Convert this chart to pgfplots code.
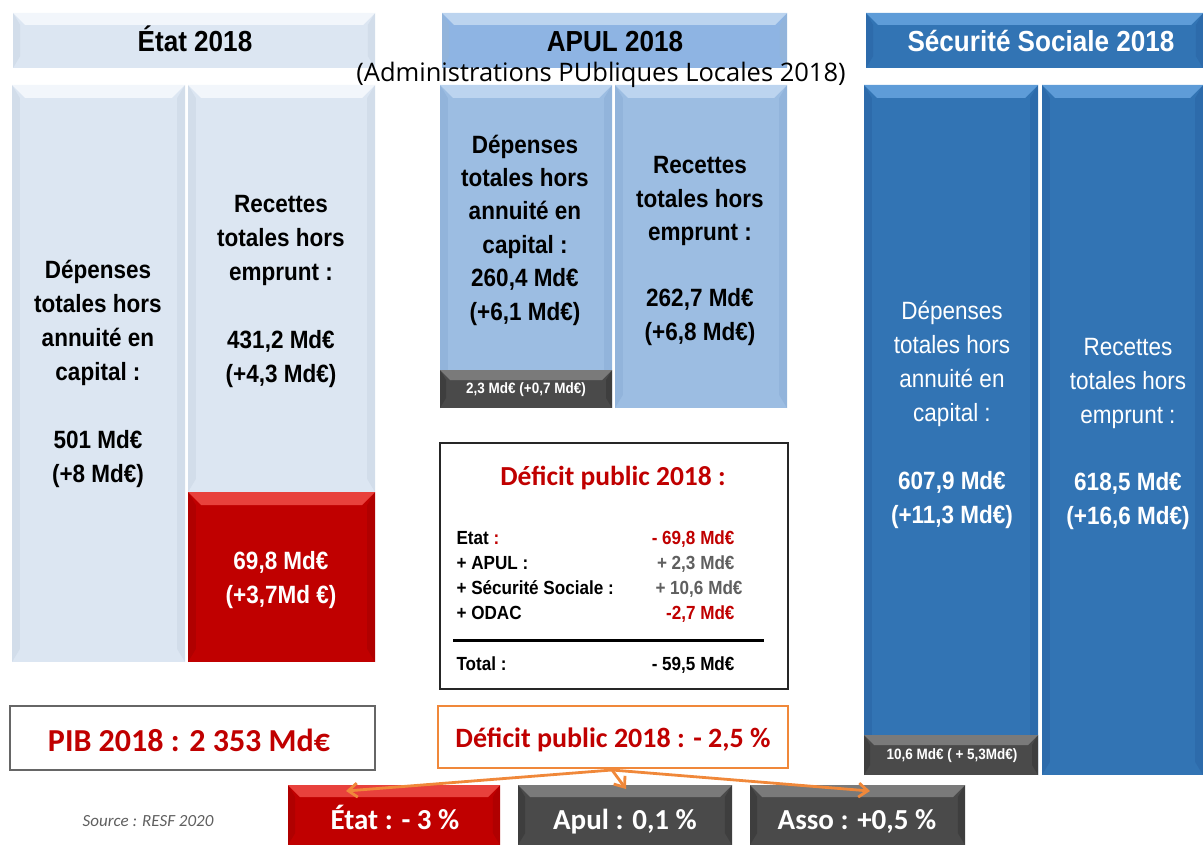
\documentclass[border=0pt]{standalone}
\usepackage{pgfplots}
\pgfplotsset{compat=1.18}
\usepackage{fontspec}
\setmainfont{Liberation Sans}
\newfontfamily\nar[FakeStretch=0.9]{Liberation Sans}
\newfontfamily\calfont{Carlito}
\newfontfamily\osans{Open Sans}
\usetikzlibrary{arrows.meta}

\definecolor{etatL}{HTML}{DCE6F2}
\definecolor{etatTop}{HTML}{F2F6FB}
\definecolor{etatSide}{HTML}{D2DDEA}
\definecolor{redA}{HTML}{C00000}
\definecolor{redTop}{HTML}{E8413C}
\definecolor{redSide}{HTML}{B00000}
\definecolor{apul}{HTML}{9CBDE2}
\definecolor{apulTop}{HTML}{BCD4EF}
\definecolor{apulSide}{HTML}{92B4DB}
\definecolor{apulH}{HTML}{8EB4E3}
\definecolor{ss}{HTML}{3274B4}
\definecolor{ssTop}{HTML}{5E9CD8}
\definecolor{ssSide}{HTML}{2D6BAB}
\definecolor{dg}{HTML}{4A4A4A}
\definecolor{dgTop}{HTML}{7A7A7A}
\definecolor{dgSide}{HTML}{3E3E3E}
\definecolor{orangeA}{HTML}{F0883A}
\definecolor{redtxt}{HTML}{C00000}
\definecolor{graytxt}{HTML}{5F5F5F}

% x0 y0 x1 y1 base top side bevel
\newcommand{\bevbox}[8]{%
 \pgfmathsetmacro\xa{#1+#8}\pgfmathsetmacro\xb{#3-#8}%
 \pgfmathsetmacro\ya{#2+#8}\pgfmathsetmacro\yb{#4-#8}%
 \pgfmathsetmacro\xc{#1+0.6*#8}\pgfmathsetmacro\xd{#3-0.6*#8}%
 \addplot[draw=none,fill=#5] coordinates {(#1,#2) (#3,#2) (#3,#4) (#1,#4)} --cycle;
 \addplot[draw=none,fill=#7] coordinates {(#1,#2) (\xc,\ya) (\xc,\yb) (#1,#4)} --cycle;
 \addplot[draw=none,fill=#7] coordinates {(#3,#2) (\xd,\ya) (\xd,\yb) (#3,#4)} --cycle;
 \addplot[draw=none,fill=#6] coordinates {(#1,#2) (#3,#2) (\xb,\ya) (\xa,\ya)} --cycle;
}

\begin{document}
\begin{tikzpicture}
\begin{axis}[width=1203pt,height=845pt,scale only axis,
  xmin=0,xmax=1203,ymin=0,ymax=845,y dir=reverse,
  hide axis,clip=false]
\path (rel axis cs:0,0) coordinate (A) (rel axis cs:1,1) coordinate (B);

% ---------- Etat ----------
\bevbox{13}{13}{375}{68}{etatL}{etatTop}{etatSide}{12}
\bevbox{12}{85}{185}{662}{etatL}{etatTop}{etatSide}{13}
\bevbox{188}{85}{375}{492}{etatL}{etatTop}{etatSide}{13}
\bevbox{188}{492}{375}{662}{redA}{redTop}{redSide}{13}

% ---------- APUL ----------
\bevbox{442}{13}{787}{68}{apulH}{apulTop}{apulSide}{12}
\bevbox{440}{85}{612}{408}{apul}{apulTop}{apulSide}{13}
\bevbox{615}{85}{787}{408}{apul}{apulTop}{apulSide}{13}
\bevbox{440}{370}{612}{408}{dg}{dgTop}{dgSide}{10}

% ---------- Securite sociale ----------
\bevbox{866}{13}{1203}{68}{ss}{ssTop}{ssSide}{12}
\bevbox{864}{85}{1038}{775}{ss}{ssTop}{ssSide}{13}
\bevbox{1042}{85}{1203}{775}{ss}{ssTop}{ssSide}{13}
\bevbox{864}{735}{1038}{775}{dg}{dgTop}{dgSide}{10}

% ---------- bottom boxes ----------
\bevbox{288}{785}{500}{845}{redA}{redTop}{redSide}{12}
\bevbox{518}{785}{732}{845}{dg}{dgTop}{dgSide}{12}
\bevbox{750}{785}{965}{845}{dg}{dgTop}{dgSide}{12}

% deficit box
\addplot[draw=black!85,line width=1.5pt,fill=white] coordinates {(440,443) (788,443) (788,689) (440,689)} --cycle;
\addplot[draw=black,line width=3pt] coordinates {(453,640) (764,640)};
% PIB box
\addplot[draw=gray!80!black,line width=1.5pt,fill=white] coordinates {(10,706) (375,706) (375,770) (10,770)} --cycle;
% deficit % box
\addplot[draw=orangeA,line width=1.5pt,fill=white] coordinates {(438,706) (788,706) (788,768) (438,768)} --cycle;
% arrows
\addplot[draw=orangeA,line width=2.8pt,-{Straight Barb[length=9pt,width=14pt,line width=2.8pt]}] coordinates {(612,770) (346,791)};
\addplot[draw=orangeA,line width=2.8pt,-{Straight Barb[length=9pt,width=14pt,line width=2.8pt]}] coordinates {(612,770) (626,789)};
\addplot[draw=orangeA,line width=2.8pt,-{Straight Barb[length=9pt,width=14pt,line width=2.8pt]}] coordinates {(612,770) (870,791)};

% ---------- texts ----------
\node[anchor=base,font=\nar\bfseries\fontsize{29}{34}\selectfont] at (axis cs:195,52) {État 2018};
\node[anchor=base,font=\nar\bfseries\fontsize{29}{34}\selectfont] at (axis cs:615,52) {APUL 2018};
\node[anchor=base,font=\nar\bfseries\fontsize{29}{34}\selectfont,text=white] at (axis cs:1041,52) {Sécurité Sociale 2018};
\node[font=\osans\fontsize{25.5}{30}\selectfont] at (axis cs:601,75) {(Administrations PUbliques Locales 2018)};

\node[align=center,font=\nar\bfseries\fontsize{25}{34}\selectfont] at (axis cs:98,374)
 {Dépenses\\totales hors\\annuité en\\capital :\\[34pt]501 Md€\\(+8 Md€)};
\node[align=center,font=\nar\bfseries\fontsize{25}{34}\selectfont] at (axis cs:281,291)
 {Recettes\\totales hors\\emprunt :\\[34pt]431,2 Md€\\(+4,3 Md€)};
\node[align=center,text=white,font=\nar\bfseries\fontsize{25}{34}\selectfont] at (axis cs:281,580)
 {69,8 Md€\\(+3,7Md €)};

\node[align=center,font=\nar\bfseries\fontsize{25}{33.4}\selectfont] at (axis cs:525,230)
 {Dépenses\\totales hors\\annuité en\\capital :\\260,4 Md€\\(+6,1 Md€)};
\node[align=center,font=\nar\bfseries\fontsize{25}{33.4}\selectfont] at (axis cs:700,251)
 {Recettes\\totales hors\\emprunt :\\[33pt]262,7 Md€\\(+6,8 Md€)};
\node[text=white,font=\nar\bfseries\fontsize{15}{18}\selectfont] at (axis cs:526,390) {2,3 Md€ (+0,7 Md€)};

\node[align=center,text=white,font=\nar\fontsize{25}{34}\selectfont] at (axis cs:952,415)
 {Dépenses\\totales hors\\annuité en\\capital :\\[34pt]\bfseries 607,9 Md€\\\bfseries (+11,3 Md€)};
\node[align=center,text=white,font=\nar\fontsize{25}{34}\selectfont] at (axis cs:1128,434)
 {Recettes\\totales hors\\emprunt :\\[33pt]\bfseries 618,5 Md€\\\bfseries (+16,6 Md€)};
\node[text=white,font=\nar\bfseries\fontsize{15}{18}\selectfont] at (axis cs:952,756) {10,6 Md€ ( + 5,3Md€)};

% deficit table
\node[text=redtxt,font=\calfont\bfseries\fontsize{27.5}{30}\selectfont] at (axis cs:613,478) {Déficit public 2018 :};
\node[anchor=base west,font=\nar\bfseries\fontsize{19}{22}\selectfont] at (axis cs:453,544) {Etat \textcolor{redtxt}{:}};
\node[anchor=base west,font=\nar\bfseries\fontsize{19}{22}\selectfont] at (axis cs:453,569) {+ APUL :};
\node[anchor=base west,font=\nar\bfseries\fontsize{19}{22}\selectfont] at (axis cs:453,594) {+ Sécurité Sociale :};
\node[anchor=base west,font=\nar\bfseries\fontsize{19}{22}\selectfont] at (axis cs:453,619) {+ ODAC};
\node[anchor=base west,font=\nar\bfseries\fontsize{19}{22}\selectfont] at (axis cs:453,670) {Total :};
\node[anchor=base east,text=redtxt,font=\nar\bfseries\fontsize{19}{22}\selectfont] at (axis cs:738,544) {- 69,8 Md€};
\node[anchor=base east,text=graytxt,font=\nar\bfseries\fontsize{19}{22}\selectfont] at (axis cs:738,569) {+ 2,3 Md€};
\node[anchor=base east,text=graytxt,font=\nar\bfseries\fontsize{19}{22}\selectfont] at (axis cs:746,594) {+ 10,6 Md€};
\node[anchor=base east,text=redtxt,font=\nar\bfseries\fontsize{19}{22}\selectfont] at (axis cs:738,619) {-2,7 Md€};
\node[anchor=base east,font=\nar\bfseries\fontsize{19}{22}\selectfont] at (axis cs:738,670) {- 59,5 Md€};

% bottom texts
\node[text=redtxt,font=\calfont\bfseries\fontsize{32}{34}\selectfont] at (axis cs:189,740) {PIB 2018 : 2 353 Md€};
\node[text=redtxt,font=\calfont\bfseries\fontsize{28}{34}\selectfont] at (axis cs:613,740) {Déficit public 2018 : - 2,5 \%};
\node[anchor=base,text=white,font=\calfont\bfseries\fontsize{29}{34}\selectfont] at (axis cs:395,829) {État : - 3 \%};
\node[anchor=base,text=white,font=\calfont\bfseries\fontsize{29}{34}\selectfont] at (axis cs:625,829) {Apul : 0,1 \%};
\node[anchor=base,text=white,font=\calfont\bfseries\fontsize{29}{34}\selectfont] at (axis cs:857,829) {Asso : +0,5 \%};
\node[text=graytxt,font=\calfont\itshape\fontsize{17}{20}\selectfont] at (axis cs:148,821) {Source : RESF 2020};
\end{axis}
\pgfresetboundingbox
\path (A) rectangle (B);
\end{tikzpicture}
\end{document}
